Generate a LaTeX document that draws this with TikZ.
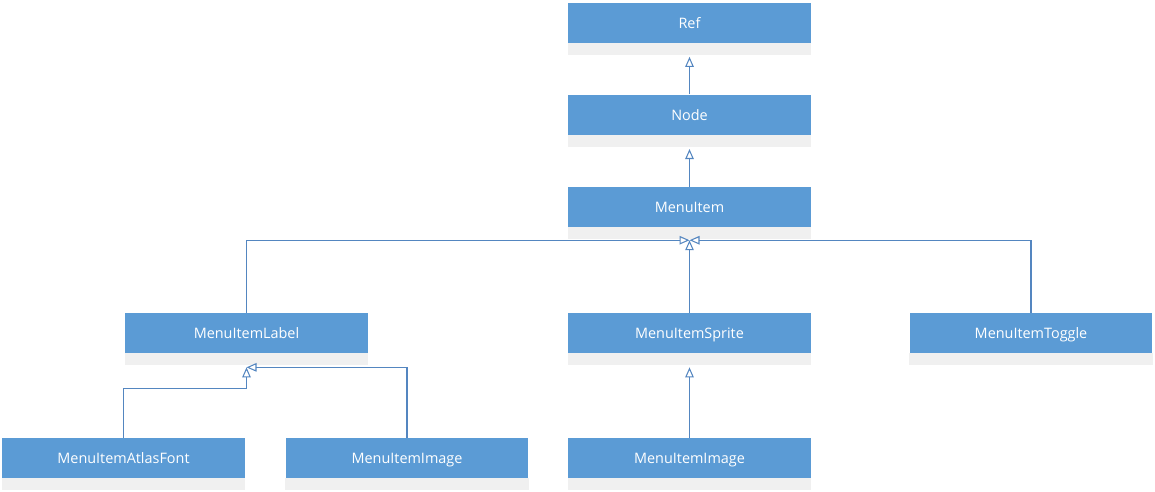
\documentclass[tikz,border=0pt]{standalone}
\usepackage{fontspec}
\setmainfont{Open Sans}
\usepackage{tikz}
\usetikzlibrary{positioning, arrows.meta, calc}
\definecolor{boxblue}{RGB}{91,155,213}
\definecolor{lineblue}{RGB}{84,134,192}
\definecolor{stripgray}{RGB}{240,240,240}

\begin{document}
\begin{tikzpicture}[x=0.02cm, y=-0.02cm, >={Triangle[open, length=0.2cm, width=0.17cm]},
            node distance=1.03cm,
            cls/.style={rectangle, fill=boxblue, text=white, minimum width=4.86cm,
            minimum height=0.8cm, inner sep=0pt, text height=1.6ex, text depth=0.4ex,
            font=\fontsize{8.2}{10}\selectfont},
            inherit/.style={->, draw=lineblue, line width=0.6pt}]
          \useasboundingbox (0,0) rectangle (1155,491);
          \node[cls] (ref) at (689.5,22.5) {Ref};
          \node[cls, below=of ref] (node) {Node};
          \node[cls, below=of node] (menuitem) {MenuItem};
          \node[cls] (label) at (246.5,333) {MenuItemLabel};
          \node[cls] (sprite) at (689.5,333) {MenuItemSprite};
          \node[cls] (toggle) at (1031,333) {MenuItemToggle};
          \node[cls] (atlas) at (123.5,458) {MenuItemAtlasFont};
          \node[cls] (imagel) at (407,458) {MenuItemImage};
          \node[cls] (imager) at (689.5,458) {MenuItemImage};
          % grey strip under each class
          \foreach \n in {ref, node, menuitem, label, sprite, toggle, atlas, imagel, imager}
            \fill[stripgray] (\n.south west) rectangle ([yshift=-0.24cm]\n.south east);
          \coordinate (hub) at ([yshift=-0.26cm]menuitem.south);
          \coordinate (labtip) at ([yshift=-0.28cm]label.south);
          \draw[inherit] (node.north) -- ([yshift=-0.28cm]ref.south);
          \draw[inherit] (menuitem.north) -- ([yshift=-0.28cm]node.south);
          \draw[inherit] (label.north) |- (hub);
          \draw[inherit] (toggle.north) |- (hub);
          \draw[inherit] (sprite.north) -- (hub);
          \draw[inherit] (atlas.north) -- ++(0,-49) -| (labtip);
          \draw[inherit] (imagel.north) |- (labtip);
          \draw[inherit] (imager.north) -- ([yshift=-0.28cm]sprite.south);
        \end{tikzpicture}
\end{document}
